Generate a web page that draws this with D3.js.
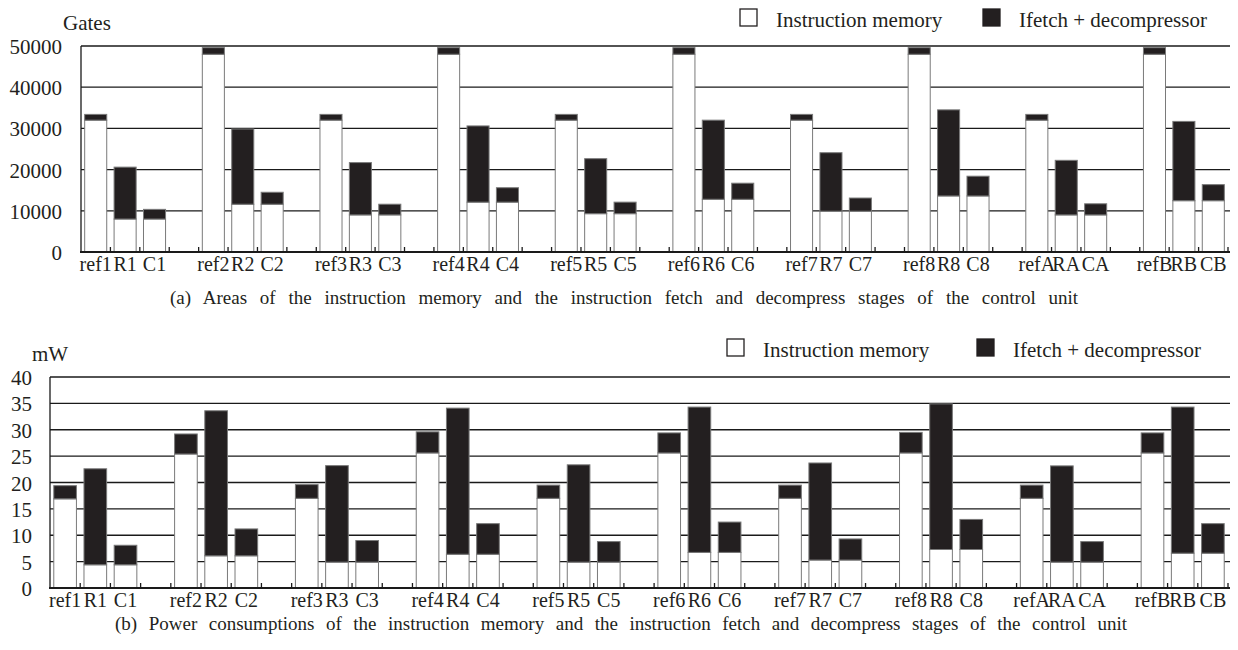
<!DOCTYPE html>
<html>
<head>
<meta charset="utf-8">
<script src="https://cdn.jsdelivr.net/npm/d3@7"></script>
<style>
  body { margin: 0; background: #fff; }
  text { font-family: 'Liberation Serif', 'DejaVu Serif', serif; }
</style>
</head>
<body>
<svg id="chart" width="1238" height="650"></svg>
<script>
// bar labels, three per group (a blank slot follows every group)
const labels = ["ref1", "R1", "C1", "ref2", "R2", "C2", "ref3", "R3", "C3", "ref4", "R4", "C4",
  "ref5", "R5", "C5", "ref6", "R6", "C6", "ref7", "R7", "C7", "ref8", "R8", "C8",
  "refA", "RA", "CA", "refB", "RB", "CB"];

// (a) area in gates
const areaMemory = [32000, 8000, 8000, 48000, 11600, 11600, 32000, 9000, 9000, 48000, 12100, 12100,
  32000, 9300, 9300, 48000, 12800, 12800, 32000, 9900, 9900, 48000, 13600, 13600,
  32000, 9000, 9000, 48000, 12450, 12450];
const areaIfetch = [1400, 12600, 2350, 1600, 18250, 2900, 1400, 12700, 2600, 1600, 18500, 3500,
  1400, 13350, 2800, 1600, 19200, 3900, 1400, 14200, 3200, 1600, 20900, 4800,
  1400, 13250, 2700, 1600, 19250, 3900];

// (b) power in mW
const powerMemory = [16.9, 4.4, 4.4, 25.4, 6.1, 6.1, 17.0, 4.9, 4.9, 25.6, 6.4, 6.4,
  17.0, 4.9, 4.9, 25.6, 6.75, 6.75, 17.0, 5.3, 5.3, 25.6, 7.3, 7.3,
  17.0, 4.9, 4.9, 25.6, 6.6, 6.6];
const powerIfetch = [2.5, 18.2, 3.7, 3.8, 27.5, 5.1, 2.6, 18.3, 4.1, 4.0, 27.7, 5.8,
  2.5, 18.45, 3.9, 3.8, 27.55, 5.75, 2.5, 18.4, 4.0, 3.9, 27.6, 5.7,
  2.5, 18.25, 3.9, 3.8, 27.7, 5.6];

const areaTicks = [0, 10000, 20000, 30000, 40000, 50000];
const powerTicks = [0, 5, 10, 15, 20, 25, 30, 35, 40];
const seriesNames = ["Instruction memory", "Ifetch + decompressor"];

const captionA = "(a) Areas of the instruction memory and the instruction fetch and decompress stages of the control unit";
const captionB = "(b) Power consumptions of the instruction memory and the instruction fetch and decompress stages of the control unit";

const svg = d3.select("#chart");
const darkFill = "#231f20";
const serif = "'Liberation Serif', 'DejaVu Serif', serif";
const font = 21;

function drawPanel(p) {
  const rows = labels.map((l, i) => ({
    label: l,
    slot: Math.floor(i / 3) * 4 + i % 3,
    memory: p.memory[i],
    ifetch: p.ifetch[i]
  }));

  const x = d3.scaleBand()
    .domain(d3.range(39))
    .range([p.left, p.right])
    .paddingInner(0.25)
    .paddingOuter(0.125);
  const y = d3.scaleLinear()
    .domain([0, d3.max(p.ticks)])
    .range([p.bottom, p.top]);
  const step = x.step();

  const g = svg.append("g");

  // gridlines
  g.selectAll(".grid")
    .data(p.ticks.slice(1))
    .enter()
    .append("line")
    .attr("x1", p.left)
    .attr("x2", p.right + 2)
    .attr("y1", d => y(d))
    .attr("y2", d => y(d))
    .attr("stroke", "#1a1a1a")
    .attr("stroke-width", 1.3);

  // stacked bars
  const stack = d3.stack().keys(["memory", "ifetch"]);
  const layers = stack(rows);
  g.selectAll(".layer")
    .data(layers)
    .enter()
    .append("g")
    .attr("fill", (d, i) => i === 0 ? "#fff" : darkFill)
    .selectAll("rect")
    .data(d => d)
    .enter()
    .append("rect")
    .attr("x", d => x(d.data.slot))
    .attr("width", x.bandwidth())
    .attr("y", d => y(d[1]))
    .attr("height", d => y(d[0]) - y(d[1]))
    .attr("stroke", "#7a7a7a")
    .attr("stroke-width", 1);

  // axes
  g.append("line")
    .attr("x1", p.left).attr("x2", p.left)
    .attr("y1", p.top).attr("y2", p.bottom)
    .attr("stroke", "#1a1a1a").attr("stroke-width", 1.3);
  g.append("line")
    .attr("x1", p.left - 1).attr("x2", p.right + 2)
    .attr("y1", p.bottom).attr("y2", p.bottom)
    .attr("stroke", "#1a1a1a").attr("stroke-width", 2.2);

  // small ticks at every slot boundary, pointing up
  g.selectAll(".xtick")
    .data(d3.range(1, 40))
    .enter()
    .append("line")
    .attr("x1", d => p.left + d * step)
    .attr("x2", d => p.left + d * step)
    .attr("y1", p.bottom)
    .attr("y2", p.bottom - 5)
    .attr("stroke", "#1a1a1a")
    .attr("stroke-width", 1.3);

  // y tick labels
  g.selectAll(".ylab")
    .data(p.ticks)
    .enter()
    .append("text")
    .attr("x", p.ylabRight)
    .attr("y", d => y(d) + 8)
    .attr("text-anchor", "end")
    .attr("font-family", serif)
    .style("font-size", font + "px")
    .attr("fill", "#231f20")
    .text(d => d);

  // x labels
  g.selectAll(".xlab")
    .data(rows)
    .enter()
    .append("text")
    .attr("x", d => x(d.slot) + x.bandwidth() / 2)
    .attr("y", p.bottom + 19)
    .attr("text-anchor", "middle")
    .attr("font-family", serif)
    .style("font-size", "20px")
    .attr("fill", "#231f20")
    .text(d => d.label);

  // unit
  g.append("text")
    .attr("x", p.unitX)
    .attr("y", p.unitY)
    .attr("font-family", serif)
    .style("font-size", font + "px")
    .attr("fill", "#231f20")
    .text(p.unit);

  // legend
  const lg = g.selectAll(".legend")
    .data(seriesNames)
    .enter()
    .append("g");
  lg.append("rect")
    .attr("x", (d, i) => p.legendX[i])
    .attr("y", p.legendY - 18)
    .attr("width", 17)
    .attr("height", 17)
    .attr("fill", (d, i) => i === 0 ? "#fff" : darkFill)
    .attr("stroke", "#231f20")
    .attr("stroke-width", 1.3);
  lg.append("text")
    .attr("x", (d, i) => p.legendX[i] + 36)
    .attr("y", p.legendY)
    .attr("font-family", serif)
    .style("font-size", font + "px")
    .attr("fill", "#231f20")
    .text(d => d);

  // caption, spread to its width like the typeset original
  const cap = g.append("text")
    .attr("x", p.capX)
    .attr("y", p.capY)
    .attr("font-family", serif)
    .style("font-size", "19px")
    .attr("fill", "#231f20")
    .text(p.caption);
  const len = cap.node().getComputedTextLength();
  const spaces = p.caption.split(" ").length - 1;
  cap.style("word-spacing", Math.max(0, (p.capWidth - len) / spaces) + "px");
}

drawPanel({
  memory: areaMemory, ifetch: areaIfetch, ticks: areaTicks,
  left: 81, right: 1228, top: 46, bottom: 252,
  ylabRight: 62, unit: "Gates", unitX: 63, unitY: 30,
  legendX: [740, 983], legendY: 27,
  caption: captionA, capX: 170, capY: 304, capWidth: 908
});

drawPanel({
  memory: powerMemory, ifetch: powerIfetch, ticks: powerTicks,
  left: 50, right: 1228, top: 377, bottom: 588,
  ylabRight: 32, unit: "mW", unitX: 32, unitY: 361,
  legendX: [727, 977], legendY: 357,
  caption: captionB, capX: 115, capY: 630, capWidth: 1012
});
</script>
</body>
</html>
